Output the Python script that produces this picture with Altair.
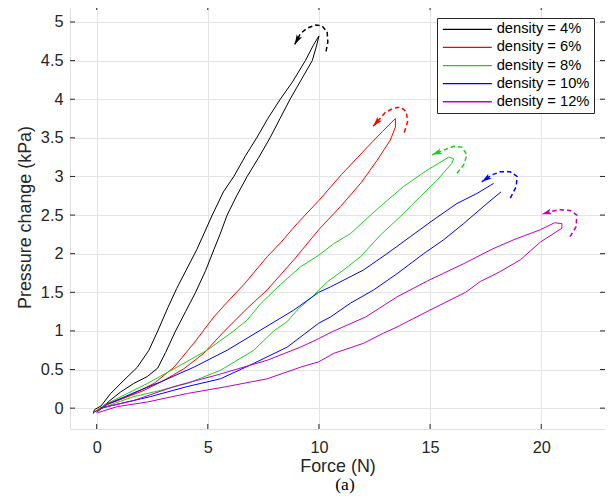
import math
import altair as alt
import pandas as pd

# ---------------- data ----------------
labels = ["density = 4%", "density = 6%", "density = 8%", "density = 10%", "density = 12%"]
colors = ["#000000", "#FF0000", "#1ECC1E", "#0000FF", "#BF00BF"]

x_ticks = [0, 5, 10, 15, 20]
y_ticks = [0, 0.5, 1, 1.5, 2, 2.5, 3, 3.5, 4, 4.5, 5]

# density = 4 %
k_up_x = [-0.15, -0.1, 0.2, 0.63, 1.22, 1.83, 2.35, 2.75, 3.2, 3.6, 4.05, 4.5, 5.2, 5.7, 6.17, 6.7, 7.2, 7.7, 8.26, 8.8, 9.39, 9.75, 10.0]
k_up_y = [-0.07, -0.02, 0.03, 0.19, 0.36, 0.53, 0.75, 1.0, 1.3, 1.55, 1.8, 2.05, 2.5, 2.8, 3.0, 3.27, 3.5, 3.75, 4.0, 4.22, 4.5, 4.7, 4.82]
k_dn_x = [10.0, 9.9, 9.7, 9.2, 8.7, 8.25, 7.8, 7.3, 6.77, 6.3, 5.87, 5.55, 5.27, 4.9, 4.45, 4.0, 3.55, 3.1, 2.75, 2.28, 1.67, 1.08, 0.6, 0.2, -0.1]
k_dn_y = [4.82, 4.7, 4.5, 4.25, 4.0, 3.75, 3.5, 3.25, 3.0, 2.75, 2.5, 2.25, 2.05, 1.78, 1.5, 1.25, 1.0, 0.72, 0.52, 0.41, 0.32, 0.21, 0.1, 0.0, -0.05]
k_arc_x = [10.32, 10.4, 10.37, 10.14, 9.84, 9.47, 9.17, 8.91]
k_arc_y = [4.62, 4.74, 4.87, 4.95, 4.96, 4.92, 4.85, 4.71]

# density = 6 %
r_up_x = [0.0, 0.4, 0.97, 1.68, 2.58, 3.48, 4.37, 5.27, 5.8, 6.62, 7.67, 8.3, 9.02, 10.0, 11.0, 12.18, 12.85, 13.44]
r_up_y = [-0.05, 0.04, 0.1, 0.19, 0.32, 0.53, 0.84, 1.18, 1.35, 1.6, 1.96, 2.15, 2.39, 2.69, 3.02, 3.38, 3.58, 3.75]
r_dn_x = [13.44, 13.44, 13.21, 12.62, 11.9, 10.97, 9.99, 8.87, 7.67, 6.8, 5.72, 4.82, 3.92, 3.03, 2.13, 1.23, 0.4, 0.0]
r_dn_y = [3.75, 3.64, 3.47, 3.21, 2.92, 2.61, 2.31, 1.92, 1.53, 1.3, 0.99, 0.71, 0.51, 0.36, 0.23, 0.13, 0.05, -0.03]
r_arc_x = [13.84, 13.99, 13.93, 13.66, 13.33, 12.99, 12.44]
r_arc_y = [3.57, 3.71, 3.84, 3.9, 3.88, 3.83, 3.65]

# density = 8 %
g_up_x = [0.0, 0.48, 1.38, 2.28, 3.48, 4.97, 6.17, 6.77, 7.37, 8.27, 9.17, 9.99, 10.67, 11.42, 12.17, 12.91, 13.81, 14.86, 15.84, 16.06]
g_up_y = [-0.03, 0.06, 0.19, 0.32, 0.51, 0.75, 1.0, 1.14, 1.35, 1.6, 1.83, 1.98, 2.13, 2.26, 2.46, 2.65, 2.87, 3.08, 3.25, 3.23]
g_dn_x = [16.06, 15.98, 15.31, 14.56, 13.66, 12.76, 11.87, 11.11, 10.4, 9.99, 9.77, 9.02, 8.57, 7.97, 7.07, 5.57, 4.08, 2.88, 1.68, 0.78, 0.1]
g_dn_y = [3.23, 3.17, 2.95, 2.74, 2.48, 2.24, 1.96, 1.79, 1.64, 1.53, 1.46, 1.27, 1.12, 1.0, 0.75, 0.49, 0.32, 0.23, 0.15, 0.06, -0.02]
g_arc_x = [16.21, 16.51, 16.66, 16.43, 16.06, 15.61, 15.09]
g_arc_y = [3.04, 3.15, 3.28, 3.38, 3.39, 3.34, 3.28]

# density = 10 %
b_up_x = [0.0, 0.48, 1.68, 2.88, 4.37, 5.87, 7.37, 8.87, 9.99, 10.52, 12.01, 13.06, 14.11, 15.16, 16.21, 17.11, 17.86]
b_up_y = [-0.05, 0.05, 0.2, 0.34, 0.53, 0.75, 1.01, 1.27, 1.5, 1.57, 1.79, 2.0, 2.22, 2.44, 2.65, 2.78, 2.91]
b_dn_x = [18.19, 17.56, 16.51, 15.61, 14.71, 13.51, 12.46, 11.42, 10.52, 9.99, 8.57, 7.07, 5.57, 4.08, 2.43, 1.08, 0.18]
b_dn_y = [2.8, 2.65, 2.39, 2.18, 2.0, 1.74, 1.53, 1.36, 1.18, 1.1, 0.79, 0.58, 0.38, 0.28, 0.15, 0.06, 0.0]
b_arc_x = [18.61, 18.88, 18.91, 18.61, 18.16, 17.78, 17.33]
b_arc_y = [2.72, 2.87, 3.0, 3.06, 3.06, 3.02, 2.93]

# density = 12 %
m_up_x = [0.0, 0.18, 1.68, 3.48, 5.42, 7.67, 9.17, 9.99, 10.6, 12.1, 13.51, 14.9, 16.51, 17.8, 18.76, 19.96, 20.6, 20.93]
m_up_y = [-0.05, 0.0, 0.1, 0.28, 0.43, 0.62, 0.79, 0.9, 0.99, 1.18, 1.44, 1.65, 1.87, 2.06, 2.18, 2.31, 2.4, 2.39]
m_dn_x = [20.93, 20.93, 19.96, 19.06, 18.1, 17.26, 16.6, 14.86, 13.51, 12.9, 12.01, 10.67, 9.99, 9.17, 7.67, 5.87, 4.08, 2.28, 0.93, 0.03]
m_dn_y = [2.39, 2.33, 2.15, 1.92, 1.76, 1.64, 1.5, 1.25, 1.05, 0.97, 0.84, 0.71, 0.6, 0.53, 0.38, 0.28, 0.19, 0.08, 0.02, -0.06]
m_arc_x = [21.3, 21.57, 21.6, 21.3, 20.85, 20.48, 20.03]
m_arc_y = [2.22, 2.35, 2.5, 2.56, 2.57, 2.55, 2.51]

# ---------------- layout ----------------
W, H = 535, 424
X_DOM = [-1.2, 22.87]
Y_DOM = [-0.27, 5.22]
FONT = "Liberation Sans"
AX = "#262626"

series = [
    (k_up_x, k_up_y, k_dn_x, k_dn_y, k_arc_x, k_arc_y),
    (r_up_x, r_up_y, r_dn_x, r_dn_y, r_arc_x, r_arc_y),
    (g_up_x, g_up_y, g_dn_x, g_dn_y, g_arc_x, g_arc_y),
    (b_up_x, b_up_y, b_dn_x, b_dn_y, b_arc_x, b_arc_y),
    (m_up_x, m_up_y, m_dn_x, m_dn_y, m_arc_x, m_arc_y),
]

loop_rows, arc_rows, head_rows = [], [], []
sx = W / (X_DOM[1] - X_DOM[0])
sy = H / (Y_DOM[1] - Y_DOM[0])
for lab, (ux, uy, dx_, dy_, ax, ay) in zip(labels, series):
    for i, (x, y) in enumerate(zip(ux, uy)):
        loop_rows.append({"s": lab, "br": lab + "u", "o": i, "x": x, "y": y})
    for i, (x, y) in enumerate(zip(dx_, dy_)):
        loop_rows.append({"s": lab, "br": lab + "d", "o": i, "x": x, "y": y})
    for i, (x, y) in enumerate(zip(ax, ay)):
        arc_rows.append({"s": lab, "o": i, "x": x, "y": y})
    ddx = (ax[-1] - ax[-2]) * sx
    ddy = -(ay[-1] - ay[-2]) * sy
    ang = math.degrees(math.atan2(ddx, -ddy)) % 360
    head_rows.append({"s": lab, "x": ax[-1], "y": ay[-1], "a": ang})

loops = pd.DataFrame(loop_rows)
arcs = pd.DataFrame(arc_rows)
heads = pd.DataFrame(head_rows)
xt = pd.DataFrame({"v": x_ticks})
yt = pd.DataFrame({"v": y_ticks})

xs = alt.Scale(domain=X_DOM, nice=False, zero=False)
ys = alt.Scale(domain=Y_DOM, nice=False, zero=False)

x_axis = alt.Axis(values=x_ticks, title="Force (N)", grid=True, gridColor="#e4e4e4",
                  domain=False, ticks=False, tickSize=0, labelPadding=10,
                  labelFont=FONT, labelFontSize=16.3, labelColor=AX,
                  titleFont=FONT, titleFontSize=17.9, titleFontWeight="normal",
                  titleColor=AX, titlePadding=2)
y_axis = alt.Axis(values=y_ticks, format="~g", title="Pressure change (kPa)", grid=True,
                  gridColor="#e4e4e4", domain=False, ticks=False, tickSize=0, labelPadding=7,
                  labelFont=FONT, labelFontSize=16.3, labelColor=AX,
                  titleFont=FONT, titleFontSize=17.9, titleFontWeight="normal",
                  titleColor=AX, titlePadding=6)

lines = alt.Chart(loops).mark_line(strokeWidth=1).encode(
    x=alt.X("x:Q", scale=xs, axis=x_axis),
    y=alt.Y("y:Q", scale=ys, axis=y_axis),
    color=alt.Color("s:N", scale=alt.Scale(domain=labels, range=colors),
                    legend=alt.Legend(title=None, orient="none", legendX=367, legendY=13,
                                      symbolType="M-0.9,0H7.1", symbolSize=150,
                                      symbolStrokeWidth=1.3, labelOffset=41,
                                      labelFont=FONT, labelFontSize=14.7, labelColor="#000000",
                                      rowPadding=2.1, padding=4, fillColor="white",
                                      strokeColor=AX, labelLimit=300)),
    detail="br:N",
    order="o:Q",
)

arc_layer = alt.Chart(arcs).mark_line(strokeWidth=1.5, strokeDash=[4.5, 3]).encode(
    x=alt.X("x:Q", scale=xs),
    y=alt.Y("y:Q", scale=ys),
    stroke=alt.Stroke("s:N", scale=alt.Scale(domain=labels, range=colors), legend=None),
    order="o:Q",
)

head_layer = alt.Chart(heads).mark_point(shape="M0,0L0.6,2L0,1.5L-0.6,2Z", size=100,
                                         filled=True, opacity=1, strokeWidth=0).encode(
    x=alt.X("x:Q", scale=xs),
    y=alt.Y("y:Q", scale=ys),
    fill=alt.Fill("s:N", scale=alt.Scale(domain=labels, range=colors), legend=None),
    angle=alt.Angle("a:Q", scale=None),
)

tick_bottom = alt.Chart(xt).mark_rule(color=AX, strokeWidth=1).encode(
    x=alt.X("v:Q", scale=xs), y=alt.value(H), y2=alt.value(H - 5))
tick_top = alt.Chart(xt).mark_rule(color=AX, strokeWidth=1).encode(
    x=alt.X("v:Q", scale=xs), y=alt.value(0), y2=alt.value(5))
tick_left = alt.Chart(yt).mark_rule(color=AX, strokeWidth=1).encode(
    y=alt.Y("v:Q", scale=ys), x=alt.value(0), x2=alt.value(5))
tick_right = alt.Chart(yt).mark_rule(color=AX, strokeWidth=1).encode(
    y=alt.Y("v:Q", scale=ys), x=alt.value(W - 5), x2=alt.value(W))

chart = alt.layer(tick_bottom, tick_top, tick_left, tick_right, lines, arc_layer, head_layer).properties(
    width=W, height=H,
    title=alt.Title("(a)", orient="bottom", font="Liberation Serif", fontSize=17.5,
                    fontWeight="normal", color="#000000", anchor="middle", dx=7.5, offset=1),
    autosize=alt.AutoSizeParams(type="none"),
    padding={"left": 62, "top": -3, "right": 0, "bottom": 65},
).configure_view(stroke=AX, strokeWidth=1).configure(background="white")

chart.save("out.html", embed_options={"renderer": "svg", "actions": False})
